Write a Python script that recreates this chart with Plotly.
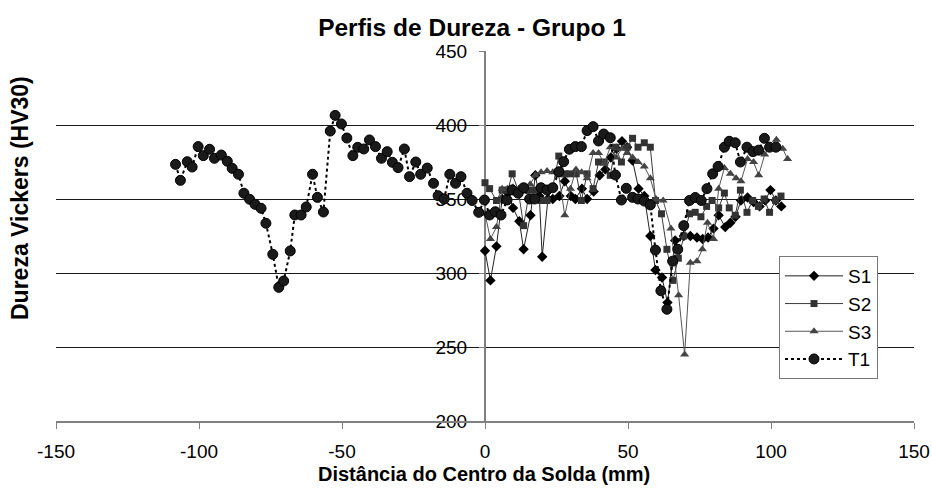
import plotly.graph_objects as go

# Hardness traverse readings (distance from weld centre in mm, HV30)
t1_x = [-108.2, -106.5, -104.1, -102.4, -100.3, -98.5, -96.3, -94.6, -92.2, -90.1,
        -88.4, -86.2, -84.3, -82.3, -80.4, -78.3, -76.6, -74.2, -72.1, -70.4,
        -68.1, -66.5, -64.3, -62.5, -60.3, -58.6, -56.5, -54.1, -52.4, -50.2,
        -48.3, -46.2, -44.5, -42.4, -40.4, -38.3, -36.2, -34.2, -32.4, -30.4,
        -28.2, -26.4, -24.2, -22.5, -20.2, -18.0, -16.4, -14.3, -12.3, -10.3,
        -8.4, -6.3, -4.5, -2.2, -0.2, 1.6, 3.6, 5.6, 7.7, 9.5,
        11.6, 13.5, 15.6, 17.4, 19.6, 21.7, 23.7, 25.8, 27.5, 29.5,
        31.6, 33.7, 35.7, 37.8, 39.7, 41.5, 43.8, 45.6, 47.7, 49.4,
        51.6, 53.5, 55.7, 57.8, 59.6, 61.5, 63.6, 65.6, 67.4, 69.5,
        71.5, 73.5, 75.6, 77.6, 79.6, 81.5, 83.7, 85.4, 87.5, 89.3,
        91.6, 93.7, 95.7, 97.7, 99.5, 101.7]
t1_y = [373.4, 362.6, 375.2, 371.6, 385.4, 379.3, 383.6, 377.5, 379.7, 375.5,
        370.7, 366.7, 353.9, 349.8, 346.4, 343.7, 333.6, 312.6, 290.3, 294.6,
        314.9, 339.2, 339.2, 344.6, 366.7, 351.1, 341.2, 395.9, 406.5, 400.7,
        391.2, 379.3, 384.9, 383.8, 389.9, 385.4, 377.5, 382.0, 374.8, 371.2,
        383.8, 365.1, 375.0, 366.7, 370.9, 360.6, 352.2, 350.0, 366.7, 360.6,
        365.1, 353.9, 349.0, 341.0, 349.3, 339.2, 341.4, 339.2, 349.3, 356.1,
        353.9, 357.6, 350.0, 350.0, 357.6, 356.1, 357.6, 368.4, 375.2, 383.6,
        385.4, 385.4, 396.2, 398.9, 389.2, 393.9, 391.4, 366.2, 349.3, 357.2,
        351.1, 350.0, 348.6, 346.0, 315.5, 288.0, 275.5, 308.0, 316.0, 332.0,
        349.0, 351.0, 349.0, 357.0, 367.0, 372.0, 385.0, 389.0, 388.0, 375.0,
        385.0, 382.0, 383.0, 391.0, 385.0, 385.0]

s1_x = [0.0, 1.9, 4.0, 6.0, 8.0, 9.8, 12.0, 13.5, 15.9, 17.6,
        19.0, 20.0, 22.0, 23.7, 26.0, 27.9, 30.0, 31.6, 33.9, 35.7,
        38.0, 40.1, 42.1, 44.0, 46.0, 47.9, 49.7, 51.6, 53.7, 55.7,
        57.8, 59.6, 61.9, 63.8, 66.5, 69.5, 71.8, 74.1, 76.1, 78.0,
        79.9, 81.7, 84.0, 85.8, 87.6, 89.5, 91.8, 93.9, 96.0, 98.0,
        99.8, 101.7, 103.6]
s1_y = [315, 295, 318, 350, 354, 344, 335, 316, 339, 366,
        352, 311, 350, 350, 352, 362, 352, 350, 357, 350,
        355, 366, 370, 378, 384, 389, 385, 376, 357, 352,
        325, 302, 297, 280, 322, 325, 325, 324, 323, 324,
        330, 339, 331, 334, 338, 349, 351, 348, 345, 349,
        356, 349, 345]

s2_x = [0.0, 1.6, 4.0, 6.0, 8.0, 9.5, 11.6, 13.5, 15.6, 17.6,
        19.6, 21.7, 23.7, 25.8, 27.9, 29.8, 31.9, 33.7, 35.7, 37.8,
        39.7, 41.7, 43.8, 45.6, 47.7, 49.7, 51.6, 53.5, 55.7, 57.8,
        59.6, 61.7, 63.6, 65.7, 67.6, 69.5, 71.5, 73.5, 75.5, 77.5,
        79.4, 81.7, 83.7, 85.4, 87.5, 89.3, 91.6, 93.6, 95.6, 97.6,
        99.5, 101.6, 103.5]
s2_y = [361, 357, 349, 356, 356, 367, 356, 332, 356, 356,
        349, 349, 358, 379, 367, 367, 367, 349, 367, 357,
        375, 375, 366, 385, 375, 385, 391, 385, 388, 385,
        349, 340, 316, 295, 310, 325, 340, 341, 338, 345,
        349, 344, 354, 344, 339, 356, 341, 349, 345, 350,
        341, 349, 352]

s3_x = [0.0, 1.9, 4.0, 6.0, 7.8, 9.8, 11.8, 13.8, 15.8, 17.6,
        19.6, 21.7, 23.7, 25.8, 27.9, 29.9, 31.8, 33.8, 35.7, 37.8,
        39.7, 41.7, 43.8, 45.8, 47.9, 49.7, 51.6, 53.5, 55.7, 57.8,
        59.8, 62.3, 65.0, 67.7, 69.8, 71.8, 74.1, 76.0, 77.8, 79.9,
        81.7, 83.7, 85.8, 87.8, 89.5, 91.8, 93.9, 95.7, 97.8, 99.8,
        101.9, 104.1, 105.8]
s3_y = [340, 323, 331, 357, 357, 358, 357, 355, 360, 366,
        368, 369, 368, 366, 339, 357, 370, 368, 364, 381,
        381, 374, 385, 378, 384, 381, 378, 375, 372, 364,
        350, 349, 330, 285, 245, 307, 308, 316, 334, 323,
        357, 371, 367, 364, 362, 377, 375, 366, 380, 386,
        390, 384, 377]

x_ticks = [-150, -100, -50, 0, 50, 100, 150]
y_ticks = [200, 250, 300, 350, 400, 450]

FONT = "Liberation Sans, Arial, sans-serif"

fig = go.Figure()
fig.add_trace(go.Scatter(
    x=s1_x, y=s1_y, name="S1", mode="lines+markers",
    line=dict(color="#222222", width=1),
    marker=dict(symbol="diamond", size=8, color="#000000"),
))
fig.add_trace(go.Scatter(
    x=s2_x, y=s2_y, name="S2", mode="lines+markers",
    line=dict(color="#3a3a3a", width=1),
    marker=dict(symbol="square", size=7, color="#333333"),
))
fig.add_trace(go.Scatter(
    x=s3_x, y=s3_y, name="S3", mode="lines+markers",
    line=dict(color="#555555", width=1),
    marker=dict(symbol="triangle-up", size=8, color="#444444"),
))
fig.add_trace(go.Scatter(
    x=t1_x, y=t1_y, name="T1", mode="lines+markers",
    line=dict(color="#000000", width=2, dash="dot"),
    marker=dict(symbol="circle", size=10, color="#1a1a1a",
                line=dict(color="#000000", width=1)),
))

L, R, T, B = 56, 18, 51, 73
W, H = 932, 494
pw, ph = W - L - R, H - T - B

def px_x(p):
    return (p - L) / pw

def px_y(p):
    return (H - B - p) / ph

fig.update_layout(
    width=W, height=H,
    margin=dict(l=L, r=R, t=T, b=B, autoexpand=False),
    paper_bgcolor="white", plot_bgcolor="white",
    font=dict(family=FONT, size=19, color="black"),
    title=dict(text="<b>Perfis de Dureza - Grupo 1</b>",
               x=472 / W, xanchor="center", xref="container",
               y=1 - 27 / H, yanchor="middle", yref="container",
               font=dict(family=FONT, size=24.5, color="black")),
    xaxis=dict(range=[-150, 150], tickvals=x_ticks, ticktext=[str(v) for v in x_ticks],
               automargin=False,
               showgrid=False, zeroline=False,
               showline=True, linecolor="#808080", linewidth=2,
               ticks="outside", ticklen=6, tickcolor="#808080", tickwidth=1,
               ticklabelstandoff=6,
               tickfont=dict(family=FONT, size=19, color="black")),
    yaxis=dict(range=[200, 450], tickvals=y_ticks, ticktext=[str(v) for v in y_ticks],
               automargin=False,
               anchor="free", position=0.5, layer="below traces",
               showgrid=True, gridcolor="#1a1a1a", gridwidth=1,
               zeroline=False,
               showline=True, linecolor="#808080", linewidth=2,
               ticks="outside", ticklen=5, tickcolor="#808080", tickwidth=1,
               ticklabelstandoff=8,
               tickfont=dict(family=FONT, size=19, color="black")),
    legend=dict(x=px_x(779), y=px_y(256), xanchor="left", yanchor="top",
                bgcolor="white", bordercolor="#777777", borderwidth=1,
                font=dict(family=FONT, size=19, color="black"),
                itemwidth=58, tracegroupgap=0),
    showlegend=True,
    annotations=[
        dict(text="<b>Distância do Centro da Solda (mm)</b>",
             x=px_x(484), y=px_y(474), xref="paper", yref="paper",
             xanchor="center", yanchor="middle", showarrow=False,
             font=dict(family=FONT, size=20, color="black")),
        dict(text="<b>Dureza Vickers (HV30)</b>",
             x=px_x(20), y=px_y(198), xref="paper", yref="paper",
             xanchor="center", yanchor="middle", showarrow=False, textangle=-90,
             font=dict(family=FONT, size=23, color="black")),
    ],
)

fig.write_html("out.html")
